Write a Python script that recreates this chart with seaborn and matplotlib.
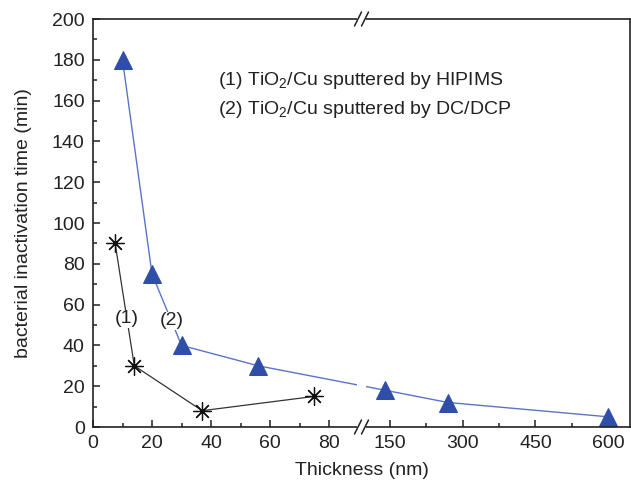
import numpy as np
import seaborn as sns
import matplotlib.pyplot as plt
from matplotlib.ticker import FixedLocator, NullFormatter
from matplotlib.patches import Rectangle
from matplotlib.lines import Line2D

# data
hipims_thk = [7.5, 14, 37, 75]
hipims_time = [90, 30, 8, 15]
dc_thk = [10, 20, 30, 56, 140, 270, 600]
dc_time = [180, 75, 40, 30, 18, 12, 5]

x_major = [0, 20, 40, 60, 80, 150, 300, 450, 600]
x_minor = [10, 30, 50, 70, 225, 375, 525]

# broken x axis: linear up to BREAK, compressed after it
BREAK = 91.0
SQUEEZE = 0.1642


def fwd(x):
    x = np.asarray(x, dtype=float)
    return np.where(x <= BREAK, x, BREAK + (x - BREAK) * SQUEEZE)


def inv(u):
    u = np.asarray(u, dtype=float)
    return np.where(u <= BREAK, u, BREAK + (u - BREAK) / SQUEEZE)


sns.set_theme(style="ticks")
plt.rcParams['font.family'] = ['Liberation Sans', 'DejaVu Sans']
plt.rcParams['mathtext.fontset'] = 'custom'
plt.rcParams['mathtext.rm'] = 'Liberation Sans'
plt.rcParams['mathtext.it'] = 'Liberation Sans:italic'

txt = '#222222'
fs = 14
W, H = 631, 488
fig = plt.figure(figsize=(W / 100, H / 100), dpi=100)
ax = fig.add_axes([93 / W, 61 / H, 537 / W, 408 / H])
ax.set_xscale('function', functions=(fwd, inv))

sns.lineplot(x=hipims_thk, y=hipims_time, ax=ax, color='#333333', lw=0.9,
             marker=(8, 2, 0), markersize=13, markeredgewidth=0.9,
             markeredgecolor='#111111')
sns.lineplot(x=dc_thk, y=dc_time, ax=ax, color='#5a74c8', lw=1.0,
             marker='^', markersize=13.5, markerfacecolor='#2f4ea8',
             markeredgecolor='#2f4ea8')

ax.set_xlim(0, float(inv(182.0)))
ax.set_ylim(0, 200)
ax.xaxis.set_major_locator(FixedLocator(x_major))
ax.xaxis.set_minor_locator(FixedLocator(x_minor))
ax.xaxis.set_minor_formatter(NullFormatter())
ax.set_xticklabels([str(v) for v in x_major])
ax.set_yticks(range(0, 201, 20))
ax.yaxis.set_minor_locator(FixedLocator(range(10, 200, 20)))

for s in ax.spines.values():
    s.set_visible(True)
    s.set_linewidth(1.2)
    s.set_color('#222222')
ax.tick_params(which='both', direction='in', width=1.1, colors='#222222',
               labelsize=fs, labelcolor=txt)
ax.tick_params(which='major', length=5, pad=6)
ax.tick_params(which='minor', length=3)

ax.set_xlabel('Thickness (nm)', fontsize=fs, color=txt, labelpad=7)
ax.set_ylabel('bacterial inactivation time (min)', fontsize=fs, color=txt,
              labelpad=14)

ax.text(42.4, 170, r'(1) TiO$_2$/Cu sputtered by HIPIMS', fontsize=fs,
        color=txt, va='center', zorder=12)
ax.text(42.4, 155.5, r'(2) TiO$_2$/Cu sputtered by DC/DCP', fontsize=fs,
        color=txt, va='center', zorder=12)
for lab, xx, yy in [('(1)', 11.5, 53), ('(2)', 26.7, 52)]:
    ax.text(xx, yy, lab, fontsize=fs, color=txt, ha='center', va='center',
            zorder=6, bbox=dict(fc='white', ec='none', pad=0.5))

# break marks
aw, ah = 537.0, 408.0
cx = (361.5 - 93) / aw
ax.add_patch(Rectangle((cx - 4.5 / aw, -0.02), 9 / aw, 1.04,
                       transform=ax.transAxes, fc='white', ec='none',
                       clip_on=False, zorder=10))
for yb in (0.0, 1.0):
    for off in (-3.5, 3.5):
        x0 = cx + (off - 3.5) / aw
        x1 = cx + (off + 3.5) / aw
        ax.add_line(Line2D([x0, x1], [yb - 7 / ah, yb + 7 / ah],
                           transform=ax.transAxes, color='#222222', lw=1.1,
                           clip_on=False, zorder=11))

fig.savefig('out.png', dpi=100)
